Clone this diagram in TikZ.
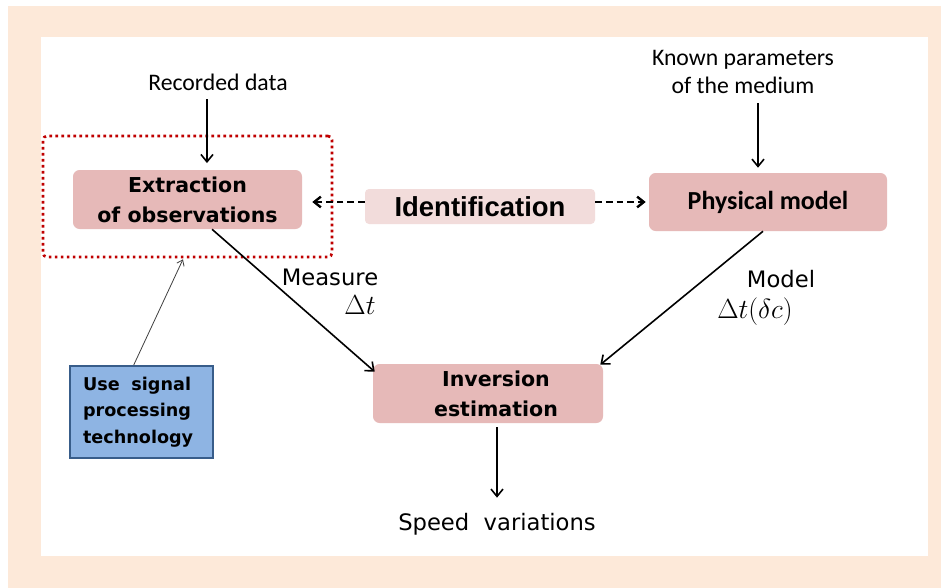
\documentclass[tikz,border=0pt]{standalone}
\usepackage[no-math]{fontspec}
\setmainfont{DejaVu Sans}
\newfontfamily\carl{Carlito}
\newfontfamily\libsans{Liberation Sans}
\usetikzlibrary{arrows.meta,calc}
\definecolor{peach}{HTML}{FDE9D9}
\definecolor{boxpink}{HTML}{E6B9B8}
\definecolor{identpink}{HTML}{F2DCDB}
\definecolor{bluefill}{HTML}{8EB4E3}
\definecolor{blueborder}{HTML}{385D8A}
\definecolor{dotred}{HTML}{C00000}
\begin{document}
\begin{tikzpicture}[x=0.75pt,y=-0.75pt,
  pbox/.style={fill=boxpink, rounded corners=5pt, inner sep=0pt, align=center},
  arr/.style={-{Straight Barb[length=5.5pt,width=9pt]}, line width=1.2pt},
  darr/.style={-{Straight Barb[length=5pt,width=8pt]}, line width=1.8pt, dash pattern=on 5pt off 3pt},
  thinarr/.style={-{Straight Barb[length=4pt,width=6pt]}, line width=0.6pt, draw=black!75},
  lbl/.style={font=\fontsize{17}{20}\selectfont},
  mathlbl/.style={font=\fontsize{20}{24}\selectfont}
]
\useasboundingbox (0,0) rectangle (941,588);
\fill[peach] (8,6) rectangle (941,588);
\fill[white] (41,37) rectangle (928,556);

% boxes
\node[draw=dotred, line width=2pt, dash pattern=on 2pt off 2.5pt, rounded corners=3pt,
      minimum width=216.75pt, minimum height=90.75pt] (dotbox) at (187.5,196.5) {};
\node[pbox, minimum width=171.75pt, minimum height=44.25pt,
      font=\bfseries\fontsize{15.4}{22.5}\selectfont] (ext) at (187.5,199.5) {Extraction\\of observations};
\node[fill=identpink, rounded corners=3pt, minimum width=172.5pt, minimum height=26.25pt, inner sep=0pt,
      font=\libsans\bfseries\fontsize{20.6}{24}\selectfont] (ident) at (480,206.5) {Identification};
\node[pbox, minimum width=178.5pt, minimum height=43.5pt,
      font=\carl\bfseries\fontsize{19.5}{22}\selectfont] (phys) at (768,202) {Physical model};
\node[pbox, minimum width=172.5pt, minimum height=44.25pt,
      font=\bfseries\fontsize{15.4}{22.5}\selectfont] (inv) at (488,393.5) {\hspace*{12pt}Inversion\\\hspace*{12pt}estimation};
\node[fill=bluefill, draw=blueborder, line width=1.6pt, anchor=north west, text width=88pt,
      inner xsep=9.75pt, minimum height=69pt, align=left,
      font=\bfseries\fontsize{13.2}{20}\selectfont] (sig) at (69,365) {Use\ \ signal\\processing\\technology};

% texts
\node[font=\carl\fontsize{17.8}{21}\selectfont] (rec) at (218,82) {Recorded data};
\node[font=\carl\fontsize{17.8}{21}\selectfont, align=center] (known) at (743,72) {Known parameters\\of the medium};
\node[lbl] (speed) at (497,524) {Speed\ \ variations};
\node[lbl] (meas) at (330,277) {Measure};
\node[mathlbl] (dt) at (360,305) {$\Delta t$};
\node[lbl] (model) at (781,279) {Model};
\node[mathlbl] (dtc) at (755,312) {$\Delta t(\delta c)$};

% connectors
\draw[arr, shorten <=3pt, shorten >=5pt] ([xshift=-8.25pt]rec.south) -- ([xshift=14.6pt]ext.north);
\draw[arr, shorten <=3.75pt, shorten >=3.75pt] ([xshift=11.25pt]known.south) -- ([xshift=-7.5pt]phys.north);
\draw[darr, shorten >=7.5pt] ([yshift=3.375pt]ident.west) -- ([yshift=-1.875pt]ext.east);
\draw[darr, shorten >=2.25pt] ([yshift=3.375pt]ident.east) -- (phys.west);
\draw[arr] ([xshift=18.4pt]ext.south) -- ([xshift=1.5pt,yshift=-6pt]inv.north west);
\draw[arr] ([xshift=-3.75pt]phys.south) -- ([xshift=-2.25pt,yshift=-0.75pt]inv.north east);
\draw[arr, shorten <=3pt, shorten >=8pt] ([xshift=6.75pt]inv.south) -- (speed.north);
\draw[thinarr] ([xshift=-6pt]sig.north) -- ([xshift=-3.4pt,yshift=-0.75pt]dotbox.south);
\end{tikzpicture}
\end{document}
